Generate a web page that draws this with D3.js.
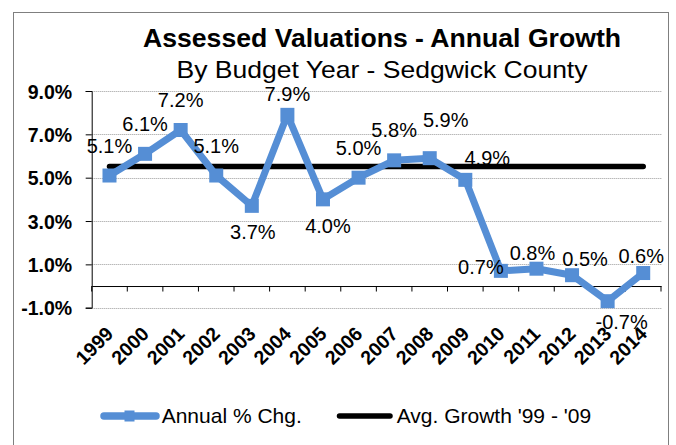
<!DOCTYPE html>
<html><head><meta charset="utf-8">
<script src="https://cdn.jsdelivr.net/npm/d3@7"></script>
<style>
html,body{margin:0;padding:0;background:#fff;}
svg{display:block;font-family:"Liberation Sans",Arial,sans-serif;}
</style></head>
<body>
<svg id="chart" width="676" height="445"></svg>
<script>
// ---- data ----
const years = ["1999","2000","2001","2002","2003","2004","2005","2006","2007","2008","2009","2010","2011","2012","2013","2014"];
const annualChg = [5.1, 6.1, 7.2, 5.1, 3.7, 7.9, 4.0, 5.0, 5.8, 5.9, 4.9, 0.7, 0.8, 0.5, -0.7, 0.6];
const avgGrowth = [5.52, 5.52, 5.52, 5.52, 5.52, 5.52, 5.52, 5.52, 5.52, 5.52, 5.52, 5.52, 5.52, 5.52, 5.52, 5.52];
const yTicks = [-1, 1, 3, 5, 7, 9];
const seriesNames = ["Annual % Chg.", "Avg. Growth '99 - '09"];
const titleText = "Assessed Valuations - Annual Growth";
const subtitleText = "By Budget Year - Sedgwick County";

// ---- label layout (pixel offsets from each point) ----
const labelOffsets = [[0,-30],[0,-30],[0,-30],[0,-30],[1,26],[0,-21],[5,26],[0,-30],[0,-31],[16,-38],[22,-22],[-20,-4],[-4,-16],[13,-16],[14,21],[-2,-17]];

const blue = "#558ed5";
const pct = d => d3.format(".1f")(d).replace("\u2212", "-") + "%";
const svg = d3.select("#chart");

// border
svg.append("rect").attr("x",13.5).attr("y",12.5).attr("width",655).attr("height",440)
  .attr("fill","none").attr("stroke","#7f7f7f").attr("stroke-width",1);

const pL = 91.7, pR = 661, pT = 91, pB = 307.7;
const x = d3.scaleBand().domain(years).range([pL, pR]);
const y = d3.scaleLinear().domain([-1, 9]).range([pB, pT]);
const cx = d => x(d) + x.bandwidth()/2;

// title
svg.append("text").attr("x",382).attr("y",46.7).attr("text-anchor","middle")
  .attr("font-size",25).attr("font-weight","bold").attr("textLength",478).attr("lengthAdjust","spacingAndGlyphs")
  .text(titleText);
svg.append("text").attr("x",382).attr("y",78.3).attr("text-anchor","middle")
  .attr("font-size",24).attr("textLength",411).attr("lengthAdjust","spacingAndGlyphs")
  .text(subtitleText);

// gridlines
svg.append("g").selectAll("line").data(yTicks).join("line")
  .attr("x1",pL).attr("x2",pR+1).attr("y1",d=>Math.round(y(d))+0.5).attr("y2",d=>Math.round(y(d))+0.5)
  .attr("stroke","#9a9a9a").attr("stroke-width",1).attr("stroke-dasharray","1,1");

// y axis
const yAxis = d3.axisLeft(y).tickValues(yTicks).tickSize(6).tickFormat(pct);
const gy = svg.append("g").attr("transform",`translate(${pL},0)`).call(yAxis);
gy.select(".domain").attr("stroke","#000");
gy.selectAll(".tick line").attr("stroke","#000");
gy.selectAll(".tick text").attr("x",-19.5).attr("font-size",19.5).attr("font-weight","bold")
  .attr("font-family","Liberation Sans, Arial, sans-serif").attr("fill","#000").attr("dy","0.36em");

// x axis at zero
const xAxis = d3.axisBottom(x).tickSize(0).tickFormat(d=>d);
const gx = svg.append("g").attr("transform",`translate(0,${y(0)})`).call(xAxis);
gx.select(".domain").attr("stroke","#000");
gx.selectAll(".tick text").remove();
// boundary ticks
const bounds = years.map(d => x(d) + x.bandwidth()).concat([pL]);
gx.append("g").selectAll("line").data(bounds).join("line")
  .attr("x1",d=>d).attr("x2",d=>d).attr("y1",0).attr("y2",5.5).attr("stroke","#000");

// rotated year labels
svg.append("g").selectAll("text").data(years).join("text")
  .attr("transform",d=>`translate(${cx(d)+5},${335}) rotate(-45)`)
  .attr("text-anchor","end").attr("font-size",19.5).attr("font-weight","bold")
  .text(d=>d);

// average line
const avgLine = d3.line().x((d,i)=>cx(years[i])).y(d=>y(d));
svg.append("path").datum(avgGrowth).attr("d",avgLine).attr("fill","none")
  .attr("stroke","#000").attr("stroke-width",5.5).attr("stroke-linecap","round");

// annual line
const line = d3.line().x((d,i)=>cx(years[i])).y(d=>y(d));
svg.append("path").datum(annualChg).attr("d",line).attr("fill","none")
  .attr("stroke",blue).attr("stroke-width",7).attr("stroke-linejoin","round");
svg.append("g").selectAll("rect").data(annualChg).join("rect")
  .attr("x",(d,i)=>cx(years[i])-7).attr("y",d=>y(d)-7).attr("width",14).attr("height",14).attr("fill",blue);

// data labels
svg.append("g").selectAll("text").data(annualChg).join("text")
  .attr("x",(d,i)=>cx(years[i])+labelOffsets[i][0]).attr("y",(d,i)=>y(d)+labelOffsets[i][1])
  .attr("dy","0.36em").attr("text-anchor","middle").attr("font-size",20).attr("fill","#000")
  .text(pct);

// legend
const lg = svg.append("g");
lg.append("line").attr("x1",104).attr("x2",156).attr("y1",416).attr("y2",416)
  .attr("stroke",blue).attr("stroke-width",7.5).attr("stroke-linecap","round");
lg.append("rect").attr("x",124.5).attr("y",410.5).attr("width",10).attr("height",11).attr("fill",blue);
lg.append("text").attr("x",161.7).attr("y",423.3).attr("font-size",21).text(seriesNames[0]);
lg.append("line").attr("x1",339.5).attr("x2",390).attr("y1",416).attr("y2",416)
  .attr("stroke","#000").attr("stroke-width",5.5).attr("stroke-linecap","round");
lg.append("text").attr("x",396.7).attr("y",423.3).attr("font-size",21).text(seriesNames[1]);
</script>
</body></html>
